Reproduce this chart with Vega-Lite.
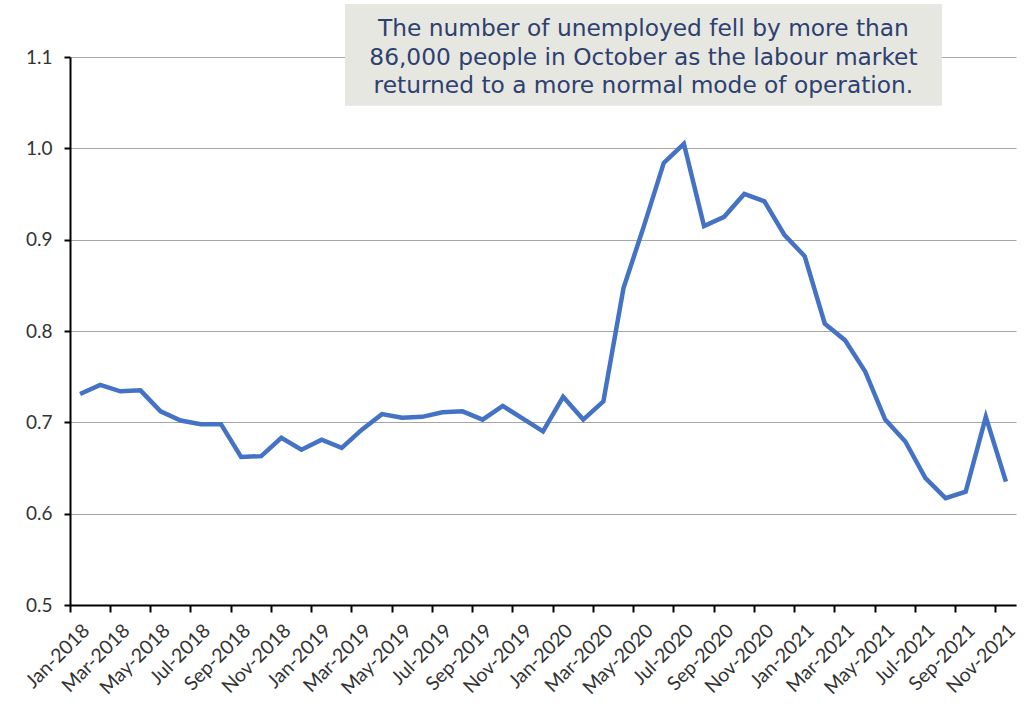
{
  "$schema": "https://vega.github.io/schema/vega-lite/v6.json",
  "width": 946,
  "height": 548,
  "autosize": {"type": "none"},
  "padding": {"left": 70, "top": 57, "right": 13, "bottom": 100},
  "background": "white",
  "config": {"view": {"stroke": null}, "font": "Lato"},
  "resolve": {"scale": {"x": "independent"}},
  "layer": [
    {
      "data": {"values": [
        {"month": "Jan-2018", "value": 0.731},
        {"month": "Feb-2018", "value": 0.741},
        {"month": "Mar-2018", "value": 0.734},
        {"month": "Apr-2018", "value": 0.735},
        {"month": "May-2018", "value": 0.712},
        {"month": "Jun-2018", "value": 0.702},
        {"month": "Jul-2018", "value": 0.698},
        {"month": "Aug-2018", "value": 0.698},
        {"month": "Sep-2018", "value": 0.662},
        {"month": "Oct-2018", "value": 0.663},
        {"month": "Nov-2018", "value": 0.683},
        {"month": "Dec-2018", "value": 0.670},
        {"month": "Jan-2019", "value": 0.681},
        {"month": "Feb-2019", "value": 0.672},
        {"month": "Mar-2019", "value": 0.692},
        {"month": "Apr-2019", "value": 0.709},
        {"month": "May-2019", "value": 0.705},
        {"month": "Jun-2019", "value": 0.706},
        {"month": "Jul-2019", "value": 0.711},
        {"month": "Aug-2019", "value": 0.712},
        {"month": "Sep-2019", "value": 0.703},
        {"month": "Oct-2019", "value": 0.718},
        {"month": "Nov-2019", "value": 0.704},
        {"month": "Dec-2019", "value": 0.690},
        {"month": "Jan-2020", "value": 0.728},
        {"month": "Feb-2020", "value": 0.703},
        {"month": "Mar-2020", "value": 0.723},
        {"month": "Apr-2020", "value": 0.847},
        {"month": "May-2020", "value": 0.914},
        {"month": "Jun-2020", "value": 0.984},
        {"month": "Jul-2020", "value": 1.005},
        {"month": "Aug-2020", "value": 0.915},
        {"month": "Sep-2020", "value": 0.925},
        {"month": "Oct-2020", "value": 0.950},
        {"month": "Nov-2020", "value": 0.942},
        {"month": "Dec-2020", "value": 0.905},
        {"month": "Jan-2021", "value": 0.882},
        {"month": "Feb-2021", "value": 0.808},
        {"month": "Mar-2021", "value": 0.790},
        {"month": "Apr-2021", "value": 0.756},
        {"month": "May-2021", "value": 0.703},
        {"month": "Jun-2021", "value": 0.679},
        {"month": "Jul-2021", "value": 0.639},
        {"month": "Aug-2021", "value": 0.617},
        {"month": "Sep-2021", "value": 0.624},
        {"month": "Oct-2021", "value": 0.706},
        {"month": "Nov-2021", "value": 0.635}
      ]},
      "mark": {"type": "line", "color": "#4472C4", "strokeWidth": 4.5},
      "encoding": {
        "x": {
          "field": "month", "type": "ordinal", "sort": null,
          "scale": {"type": "band", "paddingInner": 0, "paddingOuter": 0, "align": 0},
          "axis": {
            "title": null,
            "values": ["Jan-2018","Mar-2018","May-2018","Jul-2018","Sep-2018","Nov-2018","Jan-2019","Mar-2019","May-2019","Jul-2019","Sep-2019","Nov-2019","Jan-2020","Mar-2020","May-2020","Jul-2020","Sep-2020","Nov-2020","Jan-2021","Mar-2021","May-2021","Jul-2021","Sep-2021","Nov-2021"],
            "bandPosition": 0,
            "labelAngle": -45,
            "labelFontSize": 19.5,
            "labelColor": "#333333",
            "labelPadding": 9,
            "labelOverlap": false,
            "labelBound": false,
            "labelFlush": false,
            "domainColor": "#000000",
            "domainWidth": 2,
            "tickColor": "#000000",
            "tickWidth": 2,
            "tickSize": 7,
            "grid": false
          }
        },
        "y": {
          "field": "value", "type": "quantitative",
          "scale": {"domain": [0.5, 1.1], "nice": false, "zero": false},
          "axis": {
            "title": null,
            "values": [0.5, 0.6, 0.7, 0.8, 0.9, 1.0, 1.1],
            "format": ".1f",
            "labelFontSize": 19,
            "labelColor": "#333333",
            "labelPadding": 12,
            "labelOverlap": false,
            "labelFlush": false,
            "domainColor": "#000000",
            "domainWidth": 2,
            "tickColor": "#000000",
            "tickWidth": 2,
            "tickSize": 6,
            "grid": true,
            "gridColor": "#A6A6A6",
            "gridWidth": 1
          }
        }
      }
    },
    {
      "data": {"values": [{"x1": 13.66, "x2": 43.32, "y1": 1.158, "y2": 1.0466}]},
      "mark": {"type": "rect", "fill": "#E7E7E1"},
      "encoding": {
        "x": {"field": "x1", "type": "quantitative", "scale": {"domain": [0, 47], "nice": false, "zero": false}, "axis": null},
        "x2": {"field": "x2"},
        "y": {"field": "y1", "type": "quantitative"},
        "y2": {"field": "y2"}
      }
    },
    {
      "data": {"values": [{"x": 28.49, "y": 1.1305, "label": "The number of unemployed fell by more than\n86,000 people in October as the labour market\nreturned to a more normal mode of operation."}]},
      "mark": {"type": "text", "font": "DejaVu Sans", "fontSize": 23.3, "color": "#2E4070", "lineHeight": 28.5, "lineBreak": "\n", "align": "center", "baseline": "middle"},
      "encoding": {
        "x": {"field": "x", "type": "quantitative", "scale": {"domain": [0, 47], "nice": false, "zero": false}, "axis": null},
        "y": {"field": "y", "type": "quantitative"},
        "text": {"field": "label"}
      }
    }
  ]
}
